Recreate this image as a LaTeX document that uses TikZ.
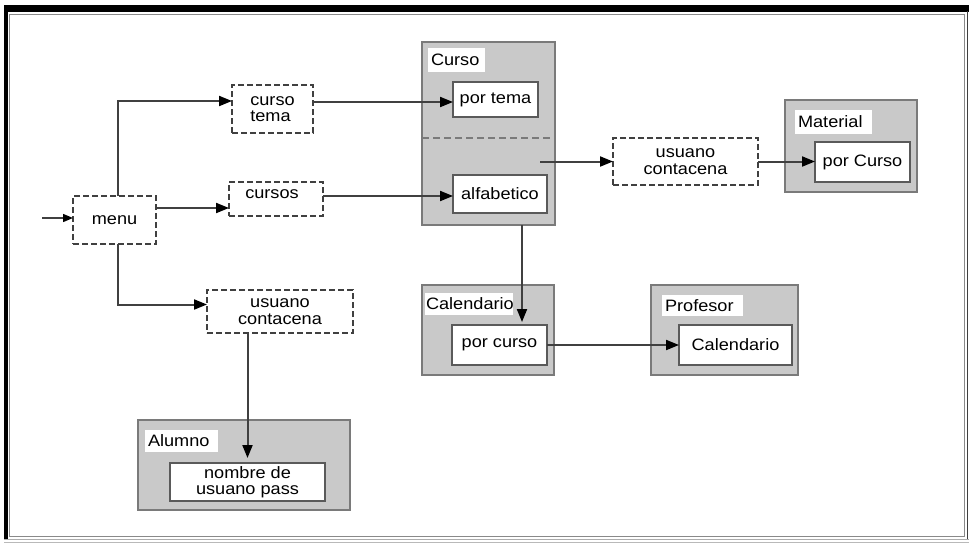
\documentclass[tikz,border=0pt]{standalone}
\usepackage{fontspec}
\setmainfont{Liberation Sans}[FakeStretch=1.1]
\usetikzlibrary{arrows.meta}
\definecolor{boxgray}{HTML}{C9C9C9}
\definecolor{edgegray}{HTML}{7A7A7A}
\definecolor{inedge}{HTML}{5A5A5A}
\definecolor{linegray}{HTML}{404040}
\definecolor{framegray}{HTML}{8A8A8A}
\begin{document}
\begin{tikzpicture}[x=1pt,y=-1pt,
  every node/.style={font=\fontsize{16.5}{16.5}\selectfont, inner sep=0pt, outer sep=0pt},
  grp/.style={draw=edgegray, line width=2.8pt, fill=boxgray},
  lbl/.style={fill=white, anchor=north west, align=left, inner xsep=3pt},
  inbox/.style={draw=inedge, line width=2.4pt, fill=white, align=center},
  dbox/.style={draw=linegray, line width=2.4pt, dash pattern=on 6pt off 3pt, fill=white, align=center},
  conn/.style={draw=linegray, line width=2pt, -{Triangle[length=13pt,width=10pt,color=black]}}
]
% background and frame
\fill[white] (0,0) rectangle (969,544);
\useasboundingbox (0,0) rectangle (969,544);
\fill[black] (4,5) rectangle (969,11.5);
\fill[black] (4,5) rectangle (7.5,540);
\draw[framegray, line width=1pt] (9.5,14) rectangle (964.5,536.5);
\draw[black!75, line width=1.5pt] (967.5,11) -- (967.5,540);
\draw[framegray!70, line width=1pt] (4,539) -- (969,539);
\draw[framegray!60, line width=1pt] (4,542) -- (969,542);

% gray group boxes
\node[grp, minimum width=133, minimum height=183] (curso) at (488.5,133.5) {};
\node[grp, minimum width=132, minimum height=92] (material) at (851,146) {};
\node[grp, minimum width=132, minimum height=90] (calendario) at (488,330) {};
\node[grp, minimum width=147, minimum height=90] (profesor) at (724.5,330) {};
\node[grp, minimum width=212, minimum height=90] (alumno) at (244,465) {};

% group labels
\node[lbl, text width=51, minimum height=24] (cursolbl) at (428,48) {Curso};
\node[lbl, text width=71, minimum height=24] (materiallbl) at (795,110) {Material};
\node[lbl, inner xsep=1pt, text width=86, minimum height=22] (calendariolbl) at (425,293) {Calendario};
\node[lbl, text width=75, minimum height=21] (profesorlbl) at (662,295) {Profesor};
\node[lbl, text width=67, minimum height=22] (alumnolbl) at (145,430) {Alumno};

% separator inside Curso
\draw[edgegray, line width=2.4pt, dash pattern=on 7pt off 4pt]
  ([yshift=-96pt]curso.north west) -- ([yshift=-96pt]curso.north east);

% inner white boxes
\node[inbox, minimum width=85, minimum height=35] (portema) at (495.5,99.5) {por tema};
\node[inbox, minimum width=94, minimum height=38] (alfabetico) at (500,194) {alfabetico};
\node[inbox, minimum width=95, minimum height=40] (porCurso) at (862.5,162) {por Curso};
\node[inbox, minimum width=95, minimum height=40] (porcurso) at (499.5,345) {por curso};
\node[inbox, minimum width=113, minimum height=40] (profcal) at (735.5,345) {Calendario};
\node[inbox, minimum width=155, minimum height=38] (nombre) at (247.5,482) {nombre de\\usuano pass};

% dashed boxes
\node[dbox, minimum width=83, minimum height=48] (menu) at (114.5,220) {menu};
\node[dbox, minimum width=81, minimum height=48, align=left] (cursotema) at (272.5,109) {curso\\tema};
\node[dbox, minimum width=94, minimum height=34] (cursos) at (276,199) {};
\node (cursostxt) at (272,194) {cursos};
\node[dbox, minimum width=146, minimum height=43] (ucl) at (280,311.5) {usuano\\contacena};
\node[dbox, minimum width=145, minimum height=47] (ucr) at (685.5,161.5) {usuano\\contacena};

% connectors
\coordinate (inp) at (42,218);
\draw[conn, line width=1.4pt, -{Triangle[length=10pt,width=8pt,color=black]}] (inp) -- (inp -| menu.west);
\draw[conn] ([xshift=3.5pt]menu.north) |- ([yshift=8pt]cursotema.west);
\draw[conn] ([yshift=12pt]menu.east) -- ([yshift=12pt]menu.east -| cursos.west);
\draw[conn] ([xshift=3.5pt]menu.south) |- ([yshift=7pt]ucl.west);
\draw[conn] ([yshift=7pt]cursotema.east) -- ([yshift=7pt]cursotema.east -| portema.west);
\draw[conn] ([yshift=3pt]cursos.east) -- ([yshift=3pt]cursos.east -| alfabetico.west);
\draw[conn] ([xshift=-15pt]curso.east |- ucr.west) -- (ucr.west);
\draw[conn] (ucr.east) -- (ucr.east -| porCurso.west);
\draw[conn, shorten >=3pt] ([xshift=22.5pt]porcurso.north |- curso.south) -- ([xshift=22.5pt]porcurso.north);
\draw[conn] (porcurso.east) -- (profcal.west);
\draw[conn, shorten >=5pt] (nombre.north |- ucl.south) -- (nombre.north);
\end{tikzpicture}
\end{document}
